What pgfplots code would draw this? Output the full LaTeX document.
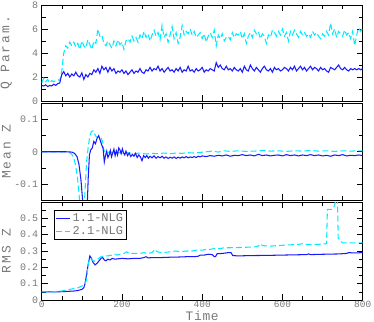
\documentclass[border=0pt]{standalone}
\usepackage{fontspec}
\setmainfont{Liberation Mono}
\newfontfamily\lblfont[LetterSpace=15]{Liberation Mono}
\newfontfamily\timefont[LetterSpace=5]{Liberation Mono}
\usepackage{pgfplots}
\pgfplotsset{compat=1.18}
\definecolor{lblue}{RGB}{25,25,255}
\definecolor{lcyan}{RGB}{0,235,255}
\definecolor{tgray}{RGB}{120,120,120}

\pgfplotsset{
  panel/.style={
    scale only axis, width=321bp,
    xmin=0, xmax=800,
    xtick={0,200,...,800}, minor x tick num=3,
    tick align=inside, major tick length=6bp, minor tick length=4bp,
    tick style={black, line width=0.5pt},
    axis line style={black, line width=0.8pt},
    /pgf/number format/assume math mode=true,
    tick label style={font=\fontsize{10}{10}\selectfont, text=tgray},
    xticklabel style={inner sep=0.5bp, font=\fontsize{9.5}{9.5}\selectfont},
    ylabel style={at={(axis description cs:-0.11,0.5)}, anchor=center,
      font=\fontsize{13}{13}\lblfont, text=tgray},
    xlabel style={at={(axis description cs:0.5,-0.205)}, anchor=base,
      font=\fontsize{13}{13}\timefont, text=tgray},
  },
  s1/.style={lblue, line width=1.05pt},
  s2/.style={lcyan, line width=1.05pt, dash pattern=on 6bp off 3bp},
}

\begin{document}
\begin{tikzpicture}

% Q parameter
\begin{axis}[panel, at={(0,199bp)}, height=96bp,
  ymin=0, ymax=8, ytick={0,2,4,6,8}, minor y tick num=1,
  xticklabels={}, ylabel={Q Param.}]
\addplot[s2] coordinates {
(0,1.5)(5,1.9)(10,1.6)(15,1.8)(20,1.5)(25,1.7)(30,1.6)(35,1.7)(40,1.8)(45,1.7)
(50,2.5)(55,4.0)(60,4.6)(65,4.4)(70,4.9)(75,4.6)(80,4.9)(85,4.5)(90,4.8)(95,4.3)
(100,5.0)(105,4.6)(110,4.4)(115,5.1)(120,4.7)(125,4.3)(130,5.0)(135,4.8)(140,6.0)(145,5.4)
(150,5.5)(155,4.8)(160,4.6)(165,5.0)(170,4.7)(175,4.4)(180,5.0)(185,4.6)(190,5.1)(195,4.7)
(200,4.9)(205,4.3)(210,5.0)(215,5.2)(220,4.9)(225,5.4)(230,5.0)(235,5.3)(240,4.9)(245,5.5)
(250,5.2)(255,5.8)(260,5.3)(265,5.6)(270,5.0)(275,5.5)(280,5.9)(285,5.4)(290,5.7)(295,5.1)
(300,6.3)(305,5.3)(310,5.6)(315,4.9)(320,5.5)(325,6.2)(330,5.2)(335,5.7)(340,4.8)(345,5.3)
(350,6.3)(355,5.5)(360,5.8)(365,5.6)(370,6.0)(375,5.5)(380,5.8)(385,5.3)(390,5.5)(395,5.7)
(400,5.2)(405,5.6)(410,4.9)(415,5.4)(420,5.7)(425,5.3)(430,5.9)(435,4.6)(440,5.5)(445,5.2)
(450,5.6)(455,5.0)(460,5.3)(465,5.4)(470,5.1)(475,5.7)(480,5.3)(485,5.6)(490,5.5)(495,5.8)
(500,5.2)(505,5.6)(510,4.8)(515,5.4)(520,5.7)(525,5.3)(530,5.9)(535,5.6)(540,5.8)(545,5.2)
(550,5.6)(555,5.4)(560,4.8)(565,5.5)(570,5.3)(575,5.9)(580,5.7)(585,5.4)(590,5.8)(595,5.5)
(600,6.0)(605,5.4)(610,5.7)(615,5.0)(620,5.8)(625,5.5)(630,5.9)(635,5.6)(640,5.3)(645,5.8)
(650,5.5)(655,5.7)(660,5.4)(665,5.6)(670,5.3)(675,5.8)(680,5.5)(685,5.7)(690,5.4)(695,5.2)
(700,5.6)(705,5.4)(710,5.8)(715,5.5)(720,6.5)(725,5.6)(730,6.0)(735,5.3)(740,5.8)(745,5.6)
(750,5.4)(755,5.9)(760,5.5)(765,5.7)(770,5.2)(775,5.8)(780,4.6)(785,5.5)(790,6.1)(795,5.8)
(800,6.1)
};
\addplot[s1] coordinates {
(0,1.3)(5,1.25)(10,1.35)(15,1.2)(20,1.3)(25,1.25)(30,1.4)(35,1.3)(40,1.45)(45,1.5)
(50,2.2)(55,2.45)(60,2.1)(65,2.3)(70,2.0)(75,2.25)(80,2.1)(85,2.4)(90,2.1)(95,2.0)
(100,2.35)(105,1.8)(110,2.2)(115,2.0)(120,2.3)(125,2.2)(130,2.6)(135,2.4)(140,2.7)(145,2.3)
(150,2.9)(155,2.6)(160,2.8)(165,2.4)(170,2.8)(175,2.5)(180,2.7)(185,2.3)(190,2.5)(195,2.4)
(200,2.6)(205,2.3)(210,2.5)(215,2.2)(220,2.4)(225,2.6)(230,2.3)(235,2.5)(240,2.4)(245,2.7)
(250,2.4)(255,2.3)(260,2.6)(265,2.5)(270,2.8)(275,2.5)(280,2.7)(285,2.6)(290,2.9)(295,2.5)
(300,2.7)(305,2.4)(310,2.6)(315,2.8)(320,2.5)(325,2.6)(330,2.4)(335,2.7)(340,2.5)(345,2.8)
(350,2.4)(355,2.6)(360,2.5)(365,2.9)(370,2.5)(375,2.6)(380,2.4)(385,2.7)(390,2.5)(395,2.6)
(400,2.8)(405,2.4)(410,2.6)(415,2.5)(420,2.7)(425,2.6)(430,2.5)(435,3.2)(440,2.8)(445,3.0)
(450,2.7)(455,2.6)(460,2.9)(465,2.6)(470,2.7)(475,2.5)(480,2.8)(485,2.6)(490,2.5)(495,2.7)
(500,2.4)(505,2.9)(510,2.6)(515,2.5)(520,3.0)(525,2.7)(530,2.5)(535,2.8)(540,2.6)(545,2.4)
(550,2.7)(555,2.9)(560,2.6)(565,2.5)(570,2.7)(575,2.4)(580,2.8)(585,2.6)(590,2.7)(595,2.5)
(600,2.6)(605,2.8)(610,2.7)(615,2.5)(620,2.8)(625,2.6)(630,2.9)(635,2.5)(640,2.7)(645,2.9)
(650,2.6)(655,2.8)(660,2.5)(665,2.7)(670,2.9)(675,2.6)(680,2.8)(685,2.7)(690,2.5)(695,2.8)
(700,2.6)(705,2.7)(710,2.5)(715,2.4)(720,2.8)(725,2.7)(730,2.6)(735,2.8)(740,3.0)(745,2.7)
(750,2.6)(755,2.8)(760,2.6)(765,2.5)(770,2.7)(775,2.6)(780,2.7)(785,2.6)(790,2.7)(795,2.6)
(800,2.7)
};
\end{axis}

% Mean Z
\begin{axis}[panel, at={(0,100bp)}, height=96.5bp,
  ymin=-0.15, ymax=0.15, ytick={-0.1,0,0.1}, yticklabels={-0.1,0,0.1},
  minor ytick={-0.05,0.05},
  xticklabels={}, ylabel={Mean Z}]
\addplot[s2] coordinates {
(0,0)(55,0)(68,-0.002)(75,-0.008)(80,-0.02)(85,-0.045)(90,-0.09)(95,-0.16)(100,-0.22)(104,-0.22)
(108,-0.12)(112,-0.03)(116,0.015)(120,0.05)(124,0.063)(128,0.065)(132,0.055)(136,0.046)(142,0.045)(148,0.044)
(152,0.03)(155,0.005)(158,-0.002)(164,-0.003)(170,0.0)(180,-0.004)(190,-0.002)(200,-0.005)(215,-0.003)(230,-0.006)
(245,-0.004)(260,-0.007)(275,-0.005)(290,-0.006)(305,-0.004)(320,-0.006)(335,-0.004)(350,-0.005)(365,-0.003)(380,-0.004)
(395,-0.002)(410,0)(425,0.002)(440,-0.001)(455,0.003)(470,0.001)(490,0.003)(510,0.001)(530,0.002)(550,0.004)
(570,0.002)(590,0.003)(610,0.001)(630,0.003)(650,0.002)(670,0.004)(690,0.002)(710,0.003)(730,0.001)(750,0.003)
(770,0.002)(790,0.003)(800,0.003)
};
\addplot[s1] coordinates {
(0,0)(60,0)(75,-0.001)(82,-0.005)(88,-0.015)(93,-0.04)(98,-0.09)(102,-0.15)(106,-0.22)(112,-0.22)
(116,-0.08)(119,-0.01)(122,0.005)(126,0.012)(130,0.032)(134,0.025)(138,0.042)(142,0.05)(146,0.035)(150,0.02)
(153,0.01)(156,-0.032)(159,-0.012)(162,0.002)(165,-0.018)(168,-0.01)(171,0.004)(174,-0.016)(177,-0.004)(180,0.008)
(183,-0.012)(186,0.003)(189,-0.01)(192,0.012)(195,0.006)(198,-0.006)(201,0.009)(204,-0.004)(207,-0.01)(210,0.002)
(214,-0.012)(218,-0.004)(222,-0.015)(226,-0.008)(230,-0.014)(234,-0.005)(238,-0.018)(242,-0.01)(246,-0.016)(250,-0.028)
(254,-0.012)(258,-0.018)(262,-0.012)(266,-0.02)(270,-0.014)(275,-0.019)(280,-0.013)(285,-0.02)(290,-0.015)(295,-0.019)
(300,-0.014)(305,-0.02)(310,-0.016)(315,-0.021)(320,-0.017)(325,-0.02)(330,-0.016)(335,-0.021)(340,-0.017)(345,-0.02)
(350,-0.016)(355,-0.019)(360,-0.015)(365,-0.019)(370,-0.016)(375,-0.018)(380,-0.015)(385,-0.018)(390,-0.014)(395,-0.016)
(400,-0.013)(410,-0.015)(420,-0.012)(430,-0.014)(440,-0.011)(450,-0.013)(460,-0.01)(470,-0.014)(480,-0.011)(490,-0.012)
(500,-0.009)(510,-0.012)(520,-0.01)(530,-0.013)(540,-0.008)(550,-0.012)(560,-0.01)(570,-0.013)(580,-0.011)(590,-0.01)
(600,-0.013)(610,-0.009)(620,-0.012)(630,-0.01)(640,-0.013)(650,-0.01)(660,-0.012)(670,-0.009)(680,-0.012)(690,-0.01)
(700,-0.013)(710,-0.011)(720,-0.014)(730,-0.01)(740,-0.012)(750,-0.009)(760,-0.013)(770,-0.011)(780,-0.012)(790,-0.01)
(800,-0.012)
};
\end{axis}

% RMS Z
\begin{axis}[panel, at={(0,0)}, height=98bp,
  ymin=0, ymax=0.6, ytick={0,0.1,0.2,0.3,0.4,0.5},
  yticklabels={0,0.1,0.2,0.3,0.4,0.5},
  minor ytick={0.05,0.15,0.25,0.35,0.45,0.55},
  xlabel={Time}, ylabel={RMS Z},
  legend style={at={(axis description cs:0.038,0.918)}, anchor=north west,
    draw=black, line width=0.6pt, fill=white, text=tgray,
    font=\fontsize{12}{12}\selectfont, inner sep=1.5bp, row sep=-1bp},
  legend cell align=left,
  legend image code/.code={\draw[#1] (0bp,0bp) -- (14bp,0bp);}]
\addplot[s1] coordinates {
(0,0.05)(20,0.05)(40,0.05)(60,0.052)(80,0.055)(90,0.058)(100,0.065)(105,0.075)(108,0.1)(112,0.16)
(116,0.22)(120,0.27)(124,0.255)(128,0.23)(133,0.215)(138,0.225)(143,0.24)(148,0.255)(152,0.26)(156,0.245)
(160,0.24)(165,0.25)(170,0.245)(176,0.255)(182,0.25)(190,0.252)(200,0.255)(215,0.252)(230,0.255)(245,0.255)
(255,0.26)(260,0.265)(265,0.258)(280,0.26)(300,0.26)(320,0.262)(340,0.263)(360,0.265)(380,0.265)(390,0.268)
(395,0.275)(405,0.275)(415,0.28)(425,0.278)(430,0.265)(433,0.265)(437,0.283)(450,0.285)(465,0.29)(472,0.29)
(476,0.272)(490,0.27)(520,0.272)(560,0.273)(600,0.275)(640,0.277)(660,0.278)(665,0.282)(670,0.278)(700,0.28)
(740,0.282)(760,0.285)(765,0.29)(780,0.288)(800,0.29)
};
\addlegendentry{1.1-NLG}
\addplot[s2] coordinates {
(0,0.05)(30,0.05)(50,0.055)(60,0.06)(70,0.065)(80,0.07)(90,0.075)(100,0.085)(108,0.095)(112,0.13)
(116,0.22)(120,0.255)(125,0.25)(130,0.235)(136,0.245)(142,0.255)(148,0.265)(155,0.27)(165,0.27)(175,0.275)
(182,0.28)(188,0.275)(195,0.28)(205,0.285)(212,0.295)(218,0.285)(230,0.285)(245,0.285)(255,0.29)(262,0.285)
(275,0.29)(282,0.31)(288,0.295)(300,0.29)(320,0.295)(335,0.3)(345,0.295)(360,0.3)(375,0.3)(385,0.305)
(400,0.305)(410,0.31)(420,0.31)(430,0.315)(445,0.315)(455,0.32)(470,0.32)(500,0.322)(530,0.325)(540,0.33)
(545,0.345)(550,0.333)(570,0.33)(600,0.335)(620,0.338)(640,0.34)(650,0.345)(655,0.34)(680,0.34)(700,0.342)
(710,0.345)(712,0.555)(725,0.555)(730,0.58)(734,0.62)(737,0.62)(739,0.38)(745,0.36)(750,0.35)(800,0.35)
};
\addlegendentry{2.1-NLG}
\end{axis}

\pgfresetboundingbox
\path[use as bounding box] (-41.7bp,-22bp) rectangle (332.3bp,300bp);
\end{tikzpicture}
\end{document}
